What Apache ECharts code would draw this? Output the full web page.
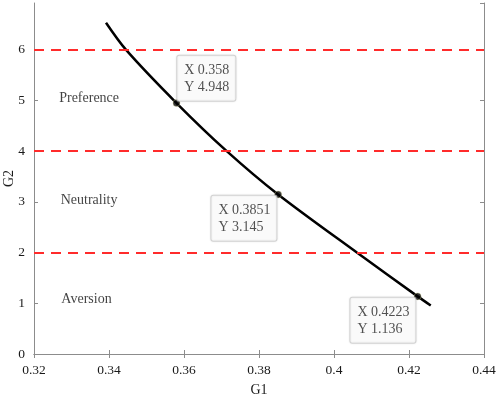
<!DOCTYPE html>
<html>
<head>
<meta charset="utf-8" />
<title></title>
<script src="https://cdn.jsdelivr.net/npm/echarts@6/dist/echarts.min.js"></script>
<style>
	body{ padding: 0px; margin: 0px; }
</style>
</head>
<body>
<div id="main" style="width: 498px; height: 397px;"></div>
<script type="text/javascript">
// curve
var g1 = [0.3392, 0.3445, 0.3580, 0.3714, 0.3851, 0.4061, 0.4223, 0.4258];
var g2 = [6.53, 6.00, 4.948, 4.00, 3.145, 2.00, 1.136, 0.957];
// data tips
var tipX = [0.358, 0.3851, 0.4223];
var tipY = [4.948, 3.145, 1.136];
// region labels
var regionNames = ['Preference', 'Neutrality', 'Aversion'];
var regionX = [0.3347, 0.3347, 0.3340];
var regionY = [5.05, 3.02, 1.07];
// threshold lines
var levels = [2, 4, 6];
var xTicks = ['0.32', '0.34', '0.36', '0.38', '0.4', '0.42', '0.44'];

var font = 'Liberation Serif';
var axisColor = '#8c8c8c';
var textColor = '#1a1a1a';
var tipPos = [[4.5, -43.5], [-63, 5], [-63.5, 5]];

var curve = g1.map(function (x, i) { return [x, g2[i]]; });
var tips = tipX.map(function (x, i) {
	return {
		value: [x, tipY[i]],
		label: { position: tipPos[i] }
	};
});
var regions = regionNames.map(function (n, i) {
	return { name: n, value: [regionX[i], regionY[i]] };
});

var mychart = echarts.init(document.getElementById('main'));
mychart.setOption({
	animation: false,
	grid: { left: 34, right: 14, top: 3, bottom: 43, containLabel: false, outerBoundsMode: 'none' },
	xAxis: [{
		type: 'value', min: 0.32, max: 0.44, interval: 0.02,
		name: 'G1', nameLocation: 'middle', nameGap: 29, nameMoveOverlap: false,
		nameTextStyle: { fontFamily: font, fontSize: 14, color: textColor },
		axisLine: { lineStyle: { color: axisColor } },
		axisTick: { inside: true, length: 4, lineStyle: { color: axisColor } },
		axisLabel: {
			fontFamily: font, fontSize: 13.5, color: textColor, margin: 9,
			formatter: function (v) { return xTicks[Math.round((v - 0.32) / 0.02)]; }
		},
		splitLine: { show: false }
	}, {
		type: 'value', position: 'top', min: 0.32, max: 0.44, interval: 0.02,
		axisLine: { show: true, lineStyle: { color: axisColor } },
		axisTick: { show: true, inside: true, length: 4, lineStyle: { color: axisColor } },
		axisLabel: { show: false },
		splitLine: { show: false }
	}],
	yAxis: [{
		type: 'value', min: 0, max: 6.92, interval: 1,
		name: 'G2', nameLocation: 'middle', nameGap: 18, nameMoveOverlap: false,
		nameTextStyle: { fontFamily: font, fontSize: 14, color: textColor },
		axisLine: { show: true, lineStyle: { color: axisColor } },
		axisTick: { show: true, inside: true, length: 4, lineStyle: { color: axisColor } },
		axisLabel: { fontFamily: font, fontSize: 13.5, color: textColor, margin: 9, showMaxLabel: false },
		splitLine: { show: false }
	}, {
		type: 'value', position: 'right', min: 0, max: 6.92, interval: 1,
		axisLine: { show: true, lineStyle: { color: axisColor } },
		axisTick: { show: true, inside: true, length: 4, lineStyle: { color: axisColor } },
		axisLabel: { show: false },
		splitLine: { show: false }
	}],
	series: [{
		type: 'line',
		data: curve,
		smooth: 0.3,
		showSymbol: false,
		lineStyle: { color: '#000', width: 2.5 },
		markLine: {
			silent: true,
			symbol: ['none', 'none'],
			label: { show: false },
			lineStyle: { color: '#ff2b2b', width: 2, type: [10, 7] },
			data: levels.map(function (v) { return { yAxis: v }; })
		},
		z: 3
	}, {
		type: 'scatter',
		data: tips,
		symbolSize: 7,
		itemStyle: { color: '#000', borderColor: '#c8c890', borderWidth: 0.5 },
		label: {
			show: true,
			align: 'left',
			verticalAlign: 'top',
			fontFamily: font, fontSize: 14, lineHeight: 17, color: '#262626',
			backgroundColor: '#fff',
			borderColor: '#cfcfcf', borderWidth: 1, borderRadius: 2,
			padding: [6, 6, 5, 7],
			shadowColor: 'rgba(0,0,0,0.12)', shadowBlur: 2,
			formatter: function (p) { return 'X ' + p.value[0] + '\nY ' + p.value[1]; }
		},
		z: 5
	}, {
		type: 'scatter',
		data: regions,
		symbolSize: 0,
		label: {
			show: true, position: 'inside',
			fontFamily: font, fontSize: 14, color: '#111',
			formatter: function (p) { return p.name; }
		},
		z: 4
	}]
});
</script>
</body>
</html>
